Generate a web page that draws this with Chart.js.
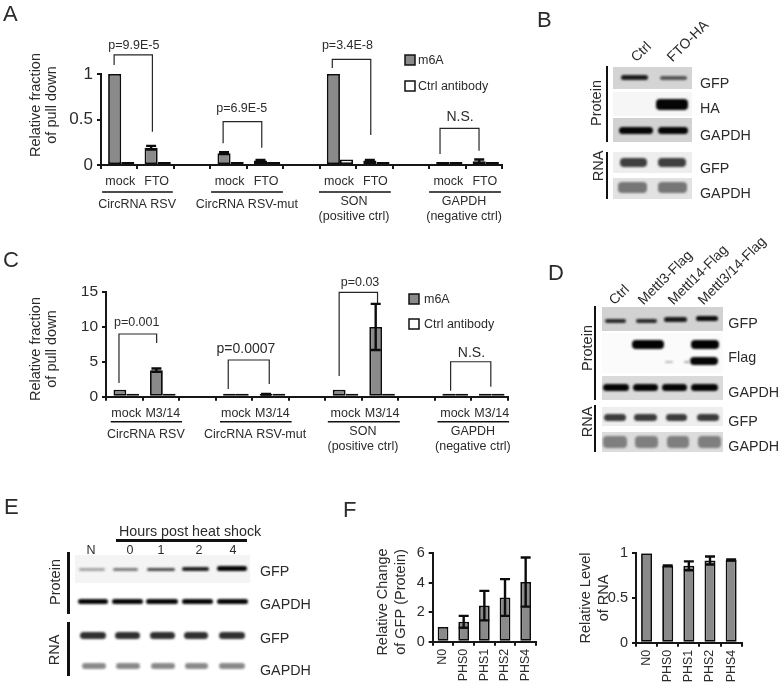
<!DOCTYPE html>
<html>
<head>
<meta charset="utf-8">
<title>m6A pull down and heat shock panels</title>
<script src="https://cdn.jsdelivr.net/npm/chart.js@4/dist/chart.umd.min.js"></script>
<style>
  html, body { margin: 0; padding: 0; background: #fff; }
  #page { position: relative; width: 781px; height: 686px; overflow: hidden; filter: blur(0.45px);
          font-family: "Liberation Sans", Arial, sans-serif; color: #2b2b2b; }
  #page canvas { position: absolute; }
  .t { position: absolute; white-space: nowrap; line-height: 1; transform: translate(0, -50%); font-size: 14.3px; }
  .letter { font-size: 22px; }
  .vert { transform: translate(-50%, -50%) rotate(-90deg); font-size: 14.5px; }
  .diag { transform-origin: 0 100%; transform: rotate(-45deg); font-size: 14px; transform-box: border-box; }
  .rule { position: absolute; background: #111; }
  .blot { position: absolute; }
  .band { position: absolute; border-radius: 4px; filter: blur(1.1px); }
</style>
</head>
<body>
<div id="page">
  <canvas id="chartA" width="520" height="215" style="left:0;top:20px"></canvas>
  <canvas id="chartC" width="520" height="225" style="left:0;top:250px"></canvas>
  <canvas id="chartF1" width="190" height="146" style="left:370px;top:540px"></canvas>
  <canvas id="chartF2" width="190" height="146" style="left:570px;top:540px"></canvas>
</div>
<script>
// series names
const seriesNames = ["m6A", "Ctrl antibody"];

// panel A
const labelsA = ["mock", "FTO", "", "mock", "FTO", "", "mock", "FTO", "", "mock", "FTO"];
const m6aA = [1, 0.19, null, 0.13, 0.05, null, 1, 0.05, null, 0.015, 0.04];
const ctrlA = [0.005, 0.005, null, 0.005, 0.005, null, 0.06, 0.005, null, 0.01, 0.005];
const errA = [0, 0.02, 0, 0.01, 0.005, 0, 0, 0.005, 0, 0.005, 0.02];

// panel C
const labelsC = ["mock", "M3/14", "", "mock", "M3/14", "", "mock", "M3/14", "", "mock", "M3/14"];
const m6aC = [1, 3.8, null, 0.1, 0.35, null, 1, 10, null, 0.05, 0.05];
const ctrlC = [0.15, 0.05, null, 0.02, 0.03, null, 0.03, 0.03, null, 0.1, 0.1];
const errC = [0, 0.25, 0, 0, 0.05, 0, 0, 3.3, 0, 0, 0];

// panel F
const labelsF = ["N0", "PHS0", "PHS1", "PHS2", "PHS4"];
const proteinF = [1, 1.35, 2.45, 3.0, 4.05];
const proteinErrF = [0, 0.4, 1, 1.25, 1.67];
const rnaF = [1, 0.86, 0.86, 0.92, 0.925];
const rnaErrF = [0, 0.005, 0.05, 0.045, 0.005];

const FONT = '"Liberation Sans", Arial, sans-serif';
const INK = "#2b2b2b";
const AXIS = "#161616";
const GREY = "#8a8a8a";

// [left x, right x, top y, left end y, right end y, label, label x, label y, font size]
const bracketsA = [
  [-0.14, 0.91, 1.21, 1.10, 0.366, "p=9.9E-5", 0.40, 1.31, 12.5],
  [2.85, 3.91, 0.476, 0.24, 0.19, "p=6.9E-5", 3.36, 0.615, 12.5],
  [5.845, 6.90, 1.16, 1.066, 0.33, "p=3.4E-8", 6.26, 1.31, 12.5],
  [8.80, 9.87, 0.403, 0.12, 0.157, "N.S.", 9.35, 0.524, 14],
];
const bracketsC = [
  [-0.145, 0.886, 8.98, 1.96, 7.69, "p=0.001", 0.34, 10.56, 12.5],
  [2.845, 3.967, 5.26, 1.10, 1.82, "p=0.0007", 3.33, 6.83, 14],
  [5.88, 6.93, 14.96, 2.97, 13.4, "p=0.03", 6.45, 16.33, 12.5],
  [8.93, 10.03, 5.01, 0.86, 1.43, "N.S.", 9.50, 6.30, 14],
];

// [line start, line end, text centre, text lines]
const groupsA = [
  [-0.47, 1.47, 0.49, ["CircRNA RSV"]],
  [2.52, 4.49, 3.50, ["CircRNA RSV-mut"]],
  [5.48, 7.45, 6.44, ["SON", "(positive ctrl)"]],
  [8.50, 10.47, 9.46, ["GAPDH", "(negative ctrl)"]],
];
const groupsC = [
  [-0.37, 1.58, 0.59, ["CircRNA RSV"]],
  [2.62, 4.58, 3.58, ["CircRNA RSV-mut"]],
  [5.57, 7.54, 6.53, ["SON", "(positive ctrl)"]],
  [8.57, 10.53, 9.54, ["GAPDH", "(negative ctrl)"]],
];

// draws what Chart.js has no option for: error bars, brackets, group labels, legend, offset y titles
const panelExtras = {
  id: "panelExtras",
  afterDatasetsUpdate(chart, args, opts) {
    // the original bars sit a little right of their category centres
    if (!opts.barShift) return;
    chart.data.datasets.forEach((d, i) => {
      chart.getDatasetMeta(i).data.forEach((bar) => { bar.x += opts.barShift; });
    });
  },
  afterDatasetsDraw(chart, args, opts) {
    const ctx = chart.ctx;
    const y = chart.scales.y;
    const bars = chart.getDatasetMeta(0).data;
    const values = chart.data.datasets[0].data;
    ctx.save();
    ctx.strokeStyle = "#0c0c0c";
    ctx.lineWidth = 2.4;
    (opts.errors || []).forEach((err, i) => {
      if (!err || values[i] == null) return;
      const x = bars[i].x;
      const hi = y.getPixelForValue(values[i] + err);
      const lo = y.getPixelForValue(values[i] - err);
      ctx.beginPath();
      ctx.moveTo(x, hi); ctx.lineTo(x, lo);
      ctx.moveTo(x - opts.cap, hi); ctx.lineTo(x + opts.cap, hi);
      ctx.moveTo(x - opts.cap, lo); ctx.lineTo(x + opts.cap, lo);
      ctx.stroke();
    });
    ctx.restore();
  },
  afterDraw(chart, args, opts) {
    const ctx = chart.ctx;
    const x = chart.scales.x;
    const y = chart.scales.y;
    const axisY = y.getPixelForValue(0);
    ctx.save();
    ctx.fillStyle = INK;
    ctx.textAlign = "center";
    ctx.textBaseline = "middle";

    (opts.brackets || []).forEach(([x0, x1, top, end0, end1, label, lx, ly, size]) => {
      ctx.strokeStyle = "#262626";
      ctx.lineWidth = 1.2;
      ctx.beginPath();
      ctx.moveTo(x.getPixelForValue(x0), y.getPixelForValue(end0));
      ctx.lineTo(x.getPixelForValue(x0), y.getPixelForValue(top));
      ctx.lineTo(x.getPixelForValue(x1), y.getPixelForValue(top));
      ctx.lineTo(x.getPixelForValue(x1), y.getPixelForValue(end1));
      ctx.stroke();
      ctx.font = `${size}px ${FONT}`;
      ctx.fillText(label, x.getPixelForValue(lx), y.getPixelForValue(ly));
    });

    (opts.groups || []).forEach(([a, b, centre, lines]) => {
      ctx.strokeStyle = "#111";
      ctx.lineWidth = 1.6;
      ctx.beginPath();
      ctx.moveTo(x.getPixelForValue(a), axisY + opts.groupRule);
      ctx.lineTo(x.getPixelForValue(b), axisY + opts.groupRule);
      ctx.stroke();
      ctx.font = `12.5px ${FONT}`;
      lines.forEach((line, i) => {
        const top = lines.length > 1 ? opts.groupRule + 10 : opts.groupRule + 13;
        ctx.fillText(line, x.getPixelForValue(centre), axisY + top + i * 14.5);
      });
    });

    if (opts.legend) {
      const l = opts.legend;
      seriesNames.forEach((name, i) => {
        const top = l.y + i * l.gap;
        ctx.fillStyle = i === 0 ? GREY : "#fff";
        ctx.strokeStyle = "#111";
        ctx.lineWidth = 1.5;
        ctx.fillRect(l.x, top, 10, 10);
        ctx.strokeRect(l.x, top, 10, 10);
        ctx.fillStyle = INK;
        ctx.font = `12.5px ${FONT}`;
        ctx.textAlign = "left";
        ctx.fillText(name, l.x + l.textGap, top + 5.5);
      });
      ctx.textAlign = "center";
    }

    if (opts.title) {
      const t = opts.title;
      ctx.font = `${t.size}px ${FONT}`;
      ctx.fillStyle = INK;
      t.lines.forEach((line, i) => {
        ctx.save();
        ctx.translate(t.x + i * t.gap, t.y);
        ctx.rotate(-Math.PI / 2);
        ctx.fillText(line, 0, 0);
        ctx.restore();
      });
    }
    ctx.restore();
  },
};
Chart.register(panelExtras);

function barChart(id, c) {
  const canvas = document.getElementById(id);
  const datasets = c.series.map((values, i) => ({
    label: seriesNames[i],
    data: values,
    backgroundColor: i === 0 ? GREY : "#fff",
    borderColor: "#0c0c0c",
    borderWidth: c.borderWidth || 1.8,
    borderSkipped: false,
    minBarLength: c.minBar || 0,
  }));
  return new Chart(canvas, {
    type: "bar",
    data: { labels: c.labels, datasets },
    options: {
      responsive: false,
      animation: false,
      categoryPercentage: c.categoryPercentage,
      barPercentage: 1,
      layout: {
        padding: {
          left: c.left - c.yWidth,
          right: canvas.width - c.right,
          top: c.top,
          bottom: canvas.height - c.bottom - c.xHeight,
        },
      },
      scales: {
        x: {
          offset: true,
          afterFit: (s) => { s.height = c.xHeight; },
          border: { color: AXIS, width: 2 },
          grid: { offset: true, drawOnChartArea: false, color: AXIS, lineWidth: 2, tickLength: 4 },
          ticks: {
            autoSkip: false,
            color: INK,
            padding: c.xPadding,
            labelOffset: c.labelShift || 0,
            minRotation: c.xRotation,
            maxRotation: c.xRotation,
            font: { family: FONT, size: 12.5 },
          },
        },
        y: {
          min: 0,
          max: c.max,
          afterFit: (s) => { s.width = c.yWidth; },
          border: { color: AXIS, width: 2 },
          grid: { drawOnChartArea: false, color: AXIS, lineWidth: 2, tickLength: 4 },
          ticks: {
            stepSize: c.step,
            color: INK,
            padding: 4,
            font: { family: FONT, size: c.tickSize },
            callback: (v) => String(v),
          },
        },
      },
      plugins: {
        legend: { display: false },
        tooltip: { enabled: false },
        panelExtras: {
          errors: c.errors,
          cap: c.cap,
          barShift: c.barShift,
          brackets: c.brackets,
          groups: c.groups,
          groupRule: c.groupRule,
          legend: c.legend,
          title: c.title,
        },
      },
    },
  });
}

barChart("chartA", {
  labels: labelsA, series: [m6aA, ctrlA], errors: errA, cap: 5, barShift: 2, labelShift: 1, minBar: 3,
  left: 101, right: 502, top: 54, bottom: 145, yWidth: 60, xHeight: 30,
  categoryPercentage: 0.72, xPadding: 5, xRotation: 0,
  max: 1, step: 0.5, tickSize: 17,
  brackets: bracketsA, groups: groupsA, groupRule: 27,
  legend: { x: 405, y: 35, gap: 26, textGap: 13 },
  title: { lines: ["Relative fraction", "of pull down"], x: 36, y: 85, gap: 16, size: 14.5 },
});

barChart("chartC", {
  labels: labelsC, series: [m6aC, ctrlC], errors: errC, cap: 5, barShift: 2, labelShift: 2, minBar: 3,
  left: 106, right: 508, top: 42, bottom: 146.7, yWidth: 60, xHeight: 30,
  categoryPercentage: 0.70, xPadding: 5, xRotation: 0,
  max: 15, step: 5, tickSize: 15.5,
  brackets: bracketsC, groups: groupsC, groupRule: 25,
  legend: { x: 409, y: 44, gap: 25, textGap: 15 },
  title: { lines: ["Relative fraction", "of pull down"], x: 36, y: 99, gap: 16, size: 14.5 },
});

barChart("chartF1", {
  labels: labelsF, series: [proteinF], errors: proteinErrF, cap: 5,
  left: 62.7, right: 166, top: 13.3, bottom: 101.7, yWidth: 40, xHeight: 44,
  categoryPercentage: 0.52, xPadding: 3, xRotation: 90,
  max: 6, step: 2, tickSize: 14.5,
  title: { lines: ["Relative Change", "of GFP (Protein)"], x: 13, y: 62, gap: 18, size: 14.5 },
});

barChart("chartF2", {
  labels: labelsF, series: [rnaF], errors: rnaErrF, cap: 5,
  left: 66, right: 171.7, top: 13.3, bottom: 102.7, yWidth: 40, xHeight: 43,
  categoryPercentage: 0.52, xPadding: 3, xRotation: 90,
  max: 1, step: 0.5, tickSize: 14.5,
  title: { lines: ["Relative Level", "of RNA"], x: 16, y: 58, gap: 18, size: 14.5 },
});

// ---- blots and their labels, plain DOM ----
const page = document.getElementById("page");

function add(cls, text, css) {
  const el = document.createElement("div");
  el.className = cls;
  if (text) el.textContent = text;
  Object.assign(el.style, css);
  page.appendChild(el);
  return el;
}
const label = (text, x, y, cls = "t") => add(cls, text, { left: x + "px", top: y + "px" });
const rule = (x, y, w, h) => add("rule", "", { left: x + "px", top: y + "px", width: w + "px", height: h + "px" });
const blot = (x0, x1, y0, y1, bg) =>
  add("blot", "", { left: x0 + "px", top: y0 + "px", width: x1 - x0 + "px", height: y1 - y0 + "px", background: bg });
const band = (x0, x1, cy, h, color) =>
  add("band", "", { left: x0 + "px", top: cy - h / 2 + "px", width: x1 - x0 + "px", height: h + "px", background: color });
const row = (spans, cy, h, color) => spans.forEach(([a, b]) => band(a, b, cy, h, color));

[["A", 3, 14], ["B", 537, 20], ["C", 3, 260], ["D", 548, 273], ["E", 4, 507], ["F", 343, 510]]
  .forEach(([s, x, y]) => label(s, x, y, "t letter"));

// panel B
blot(613.3, 691.7, 66.7, 88.7, "#d4d4d4");
blot(613.3, 691.7, 92.3, 115.7, "#f6f6f6");
blot(613.3, 691.7, 118.3, 142.3, "#d2d2d2");
blot(613.3, 691.7, 151.7, 173.3, "#eeeeee");
blot(613.3, 691.7, 177.7, 199.3, "#e2e2e2");
band(621, 648, 77.7, 4.5, "#1c1c1c");
band(660, 687, 78, 3.5, "#555");
band(656, 688, 104, 11, "#050505");
row([[619, 653], [658, 688]], 130.7, 6.5, "#050505");
row([[620, 647], [658, 686]], 162.7, 8.5, "#3f3f3f");
row([[618, 647], [658, 687]], 187.7, 11, "#767676");
rule(606, 65.7, 2.2, 76);
rule(606, 151.7, 2.2, 47.6);
label("Protein", 595.7, 103, "t vert");
label("RNA", 597.7, 166, "t vert");
[["GFP", 82.7], ["HA", 108], ["GAPDH", 135], ["GFP", 167.7], ["GAPDH", 193]].forEach(([s, y]) => label(s, 700, y));
[["Ctrl", 638, 64], ["FTO-HA", 674, 64]].forEach(([s, x, y]) =>
  add("t diag", s, { left: x + "px", top: y - 14 + "px" }));

// panel D
blot(601.7, 723.3, 307.3, 330.7, "#d2d2d2");
blot(601.7, 723.3, 333, 373, "#fbfbfb");
blot(601.7, 723.3, 376, 400, "#dadada");
blot(601.7, 723.3, 406.7, 426, "#eeeeee");
blot(601.7, 723.3, 432.3, 451.7, "#dcdcdc");
band(605, 626, 321, 4, "#2a2a2a");
band(636, 657, 321, 4, "#2a2a2a");
band(664, 687, 319.5, 4.5, "#1a1a1a");
band(696, 718, 318.5, 5.5, "#0c0c0c");
row([[632, 664], [691, 719]], 344.3, 9.5, "#030303");
band(690, 718, 360.7, 8, "#050505");
band(665, 673, 362, 2, "#bbb");
band(684, 690, 362, 2.5, "#aaa");
row([[603, 629], [633, 658], [662, 687], [691, 718]], 387.7, 7, "#050505");
row([[604, 626], [634, 657], [666, 687], [697, 719]], 417.7, 7, "#3c3c3c");
row([[603, 627], [635, 658], [667, 689], [698, 721]], 441.7, 12, "#7f7f7f");
rule(594, 306, 2.2, 94);
rule(594, 405, 2.2, 46.7);
label("Protein", 587.3, 347.7, "t vert");
label("RNA", 587.3, 421.7, "t vert");
[["GFP", 322.7], ["Flag", 357.3], ["GAPDH", 391.7], ["GFP", 421], ["GAPDH", 445.7]].forEach(([s, y]) => label(s, 728.3, y));
[["Ctrl", 616], ["Mettl3-Flag", 645], ["Mettl14-Flag", 675], ["Mettl3/14-Flag", 705]].forEach(([s, x]) =>
  add("t diag", s, { left: x + "px", top: 293 + "px" }));

// panel E
blot(75, 250, 555, 583.3, "#f4f4f4");
label("Hours post heat shock", 119, 530.7);
rule(116, 538.5, 131.3, 3);
[["N", 86.5], ["0", 126.5], ["1", 157.5], ["2", 195.5], ["4", 229.5]].forEach(([s, x]) => {
  label(s, x, 550).style.fontSize = "12.5px";
});
band(79, 105, 569.3, 2.8, "#a5a5a5");
band(113, 138, 569.5, 3.2, "#7c7c7c");
band(147, 175, 569.3, 3.6, "#4c4c4c");
band(182, 209, 569, 4.2, "#202020");
band(217, 247, 568.7, 4.8, "#050505");
row([[78, 108], [112, 143], [146, 178], [182, 213], [217, 248]], 601.7, 5.5, "#070707");
row([[80, 106], [115, 140], [150, 175], [184, 208], [219, 245]], 635, 7, "#303030");
row([[82, 106], [116, 140], [151, 175], [185, 208], [219, 245]], 666, 6, "#8a8a8a");
rule(66.5, 552.3, 3, 61.7);
rule(66.5, 622.3, 3, 53.7);
label("Protein", 55, 581.7, "t vert");
label("RNA", 54, 650, "t vert");
[["GFP", 571], ["GAPDH", 604], ["GFP", 637.7], ["GAPDH", 670]].forEach(([s, y]) => label(s, 260, y));
</script>
</body>
</html>
